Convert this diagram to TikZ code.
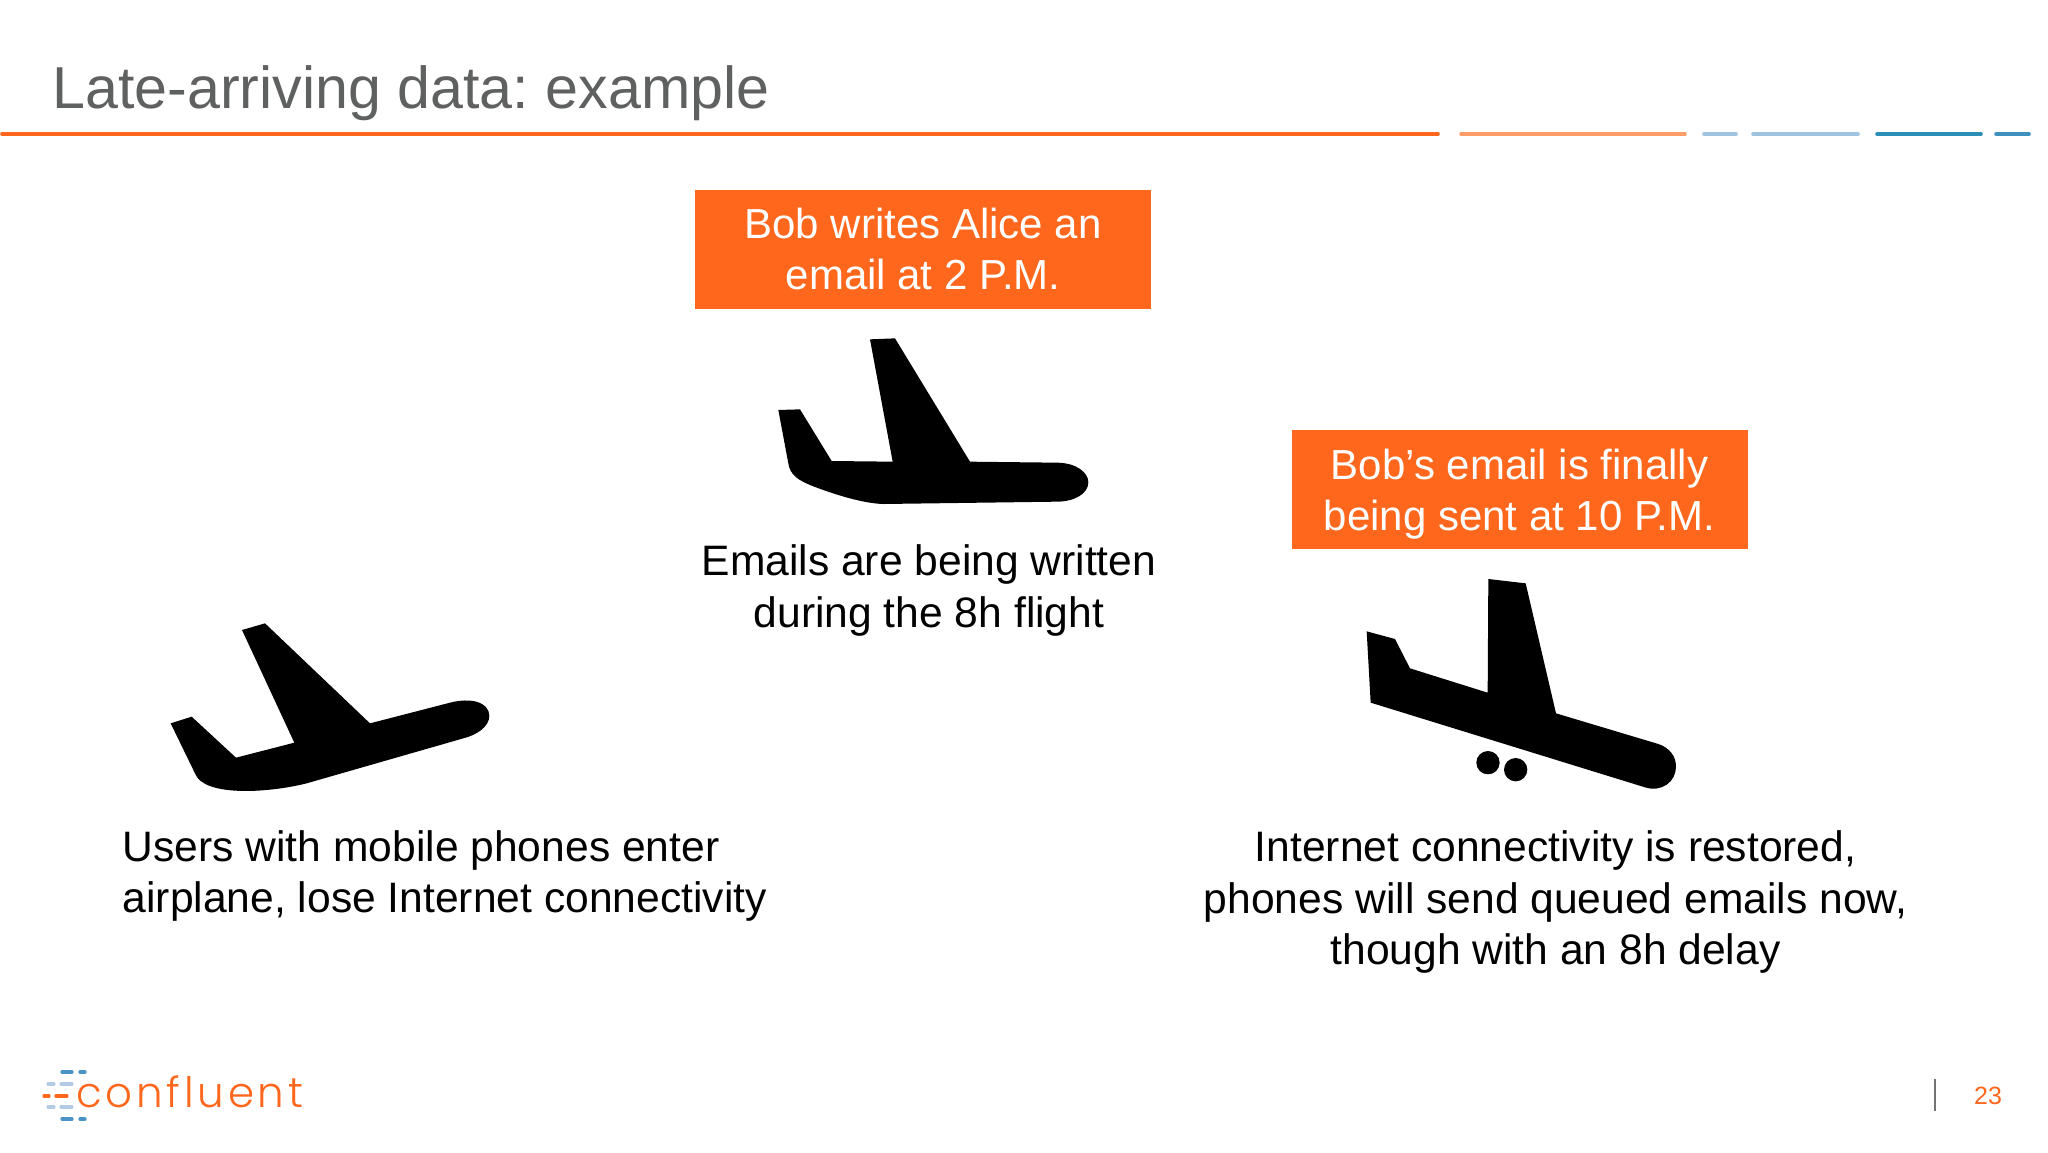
\documentclass[tikz,border=0pt]{standalone}
\usepackage{fontspec}
\setmainfont{Liberation Sans}
\newfontfamily\logofont[LetterSpace=9]{Poppins Light}
\frenchspacing
\definecolor{cforange}{HTML}{FF671D}
\definecolor{cflight}{HTML}{FB9D68}
\definecolor{cfpale}{HTML}{9DC3E0}
\definecolor{cfteal}{HTML}{2C8FB5}
\definecolor{cfblue}{HTML}{4A93C6}
\definecolor{cfsky}{HTML}{B4CBE6}
\definecolor{cftitle}{HTML}{5F6060}
\tikzset{
	rulebar/.style={line width=3.6pt, line cap=round},
	logodash/.style={line width=3.2pt, line cap=round},
	notebox/.style={fill=cforange, text=white, minimum width=456pt, minimum height=119pt, align=center, inner sep=0pt, text depth=0pt, font=\fontsize{42}{51.4}\selectfont},
	caption/.style={text=black, inner sep=0pt, font=\fontsize{42.6}{51.4}\selectfont},
	planeshape/.style={fill=black, draw=none},
}
\begin{document}
\begin{tikzpicture}[x=1pt,y=-1pt]
	\useasboundingbox (0,0) rectangle (2048,1152);
	% title and rule
	\node[anchor=base west, inner sep=0pt, text=cftitle, font=\fontsize{59.2}{62}\selectfont] (title) at (52,108) {Late-arriving data: example};
	\draw[rulebar, cforange] (2,134) -- (1438,134);
	\draw[rulebar, cflight] (1461,134) -- (1685,134);
	\draw[rulebar, cfpale] (1704,134) -- (1736,134);
	\draw[rulebar, cfpale] (1753,134) -- (1858,134);
	\draw[rulebar, cfteal] (1877,134) -- (1981,134);
	\draw[rulebar, cfblue!60!cfteal] (1996,134) -- (2029,134);
	% orange notes
	\node[notebox] (writes) at (923,249) {Bob writes Alice an\\email at 2 P.M.};
	\node[notebox] (sent) at (1519.5,489.5) {Bob’s email is finally\\being sent at 10 P.M.};
	% planes
	\begin{scope}[shift={(150,610)},scale=1/3]
		\fill[planeshape] (276,60) -- (345,40) -- (660,340) -- (900,278) .. controls (960,262) and (1018,275) .. (1018,318) .. controls (1018,350) and (980,375) .. (940,385) -- (470,520) .. controls (350,550) and (160,560) .. (135,490) -- (62,340) -- (125,320) -- (258,443) -- (433,398) -- cycle;
	\end{scope}
	\begin{scope}[shift={(740,320)},scale=1/3]
		\fill[planeshape] (390,58) -- (465,55) -- (690,425) -- (950,428) .. controls (1005,428) and (1045,455) .. (1045,487) .. controls (1045,520) and (1005,545) .. (950,545) -- (430,552) .. controls (360,550) and (260,515) .. (210,495) .. controls (175,480) and (150,465) .. (145,430) -- (115,270) -- (180,268) -- (275,423) -- (458,425) -- cycle;
	\end{scope}
	\begin{scope}[shift={(1350,570)},scale=1/3]
		\fill[planeshape] (415,27) -- (527,40) -- (618,430) -- (925,522) .. controls (958,533) and (978,558) .. (978,590) .. controls (978,635) and (935,668) .. (885,652) -- (62,398) -- (50,184) -- (135,207) -- (180,295) -- (413,368) -- cycle;
		\fill[planeshape] (414,578) circle (35);
		\fill[planeshape] (497,599) circle (35);
	\end{scope}
	% captions
	\node[caption, align=center] (written) at (929,590.5) {Emails are being written\\during the 8h flight};
	\node[caption, align=left, anchor=west] (enter) at (122.5,876) {Users with mobile phones enter\\airplane, lose Internet connectivity};
	\node[caption, align=center] (restored) at (1555.5,902) {Internet connectivity is restored,\\phones will send queued emails now,\\though with an 8h delay};
	% logo
	\foreach \y in {1072,1119} {
		\draw[logodash, cfblue] (62,\y) -- (72,\y);
		\draw[logodash, cfblue] (80,\y) -- (85,\y);
	}
	\foreach \y in {1084,1107} {
		\draw[logodash, cfsky] (48,\y) -- (54,\y);
		\draw[logodash, cfsky] (61,\y) -- (72,\y);
	}
	\draw[logodash, cforange] (44,1096) -- (49,1096);
	\draw[logodash, cforange] (56,1096) -- (67,1096);
	\node[anchor=base west, inner sep=0pt, text=cforange, font=\logofont\fontsize{42}{44}\selectfont] (logo) at (76,1107) {confluent};
	% page number
	\draw[line width=1.4pt, black!55] (1935,1079) -- (1935,1111);
	\node[text=cforange, inner sep=0pt, font=\fontsize{25}{28}\selectfont] (page) at (1988,1096) {23};
\end{tikzpicture}
\end{document}
